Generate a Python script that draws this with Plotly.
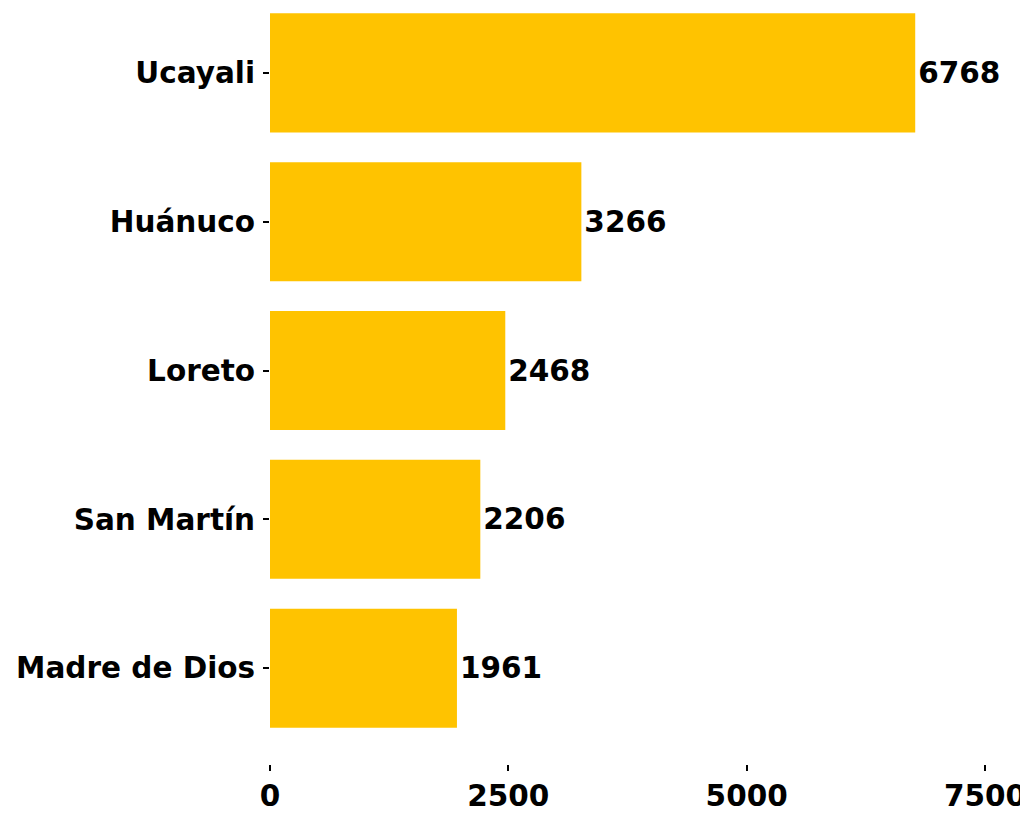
import plotly.graph_objects as go

regions = ["Madre de Dios", "San Martín", "Loreto", "Huánuco", "Ucayali"]
values = [1961, 2206, 2468, 3266, 6768]
x_ticks = [0, 2500, 5000, 7500]

FONT = dict(family="DejaVu Sans", size=29.5, color="black", weight="bold")

fig = go.Figure(go.Bar(
    y=regions, x=values, orientation="h",
    marker=dict(color="#FFC300", line=dict(width=0)),
    width=0.8,
    text=[str(v) for v in values],
    textposition="outside",
    textfont=FONT,
    cliponaxis=False,
))

# page body has an 8px margin, so the figure is sized 8px smaller
fig.update_layout(
    width=1020, height=805,
    margin=dict(l=262, r=43, t=0, b=47),
    plot_bgcolor="white", paper_bgcolor="white",
    showlegend=False,
)
fig.update_xaxes(
    range=[0, 7500], tickvals=x_ticks, ticktext=[str(t) for t in x_ticks],
    showgrid=False, zeroline=False, showline=False,
    ticks="outside", ticklen=6, tickwidth=1.5, tickcolor="black",
    tickfont=FONT,
)
fig.update_yaxes(
    categoryorder="array", categoryarray=regions,
    range=[-0.644, 4.436],
    showgrid=False, zeroline=False, showline=False,
    ticks="outside", ticklen=6, tickwidth=1.5, tickcolor="black",
    tickfont=FONT, ticklabelstandoff=2,
)

fig.write_html("out.html")
